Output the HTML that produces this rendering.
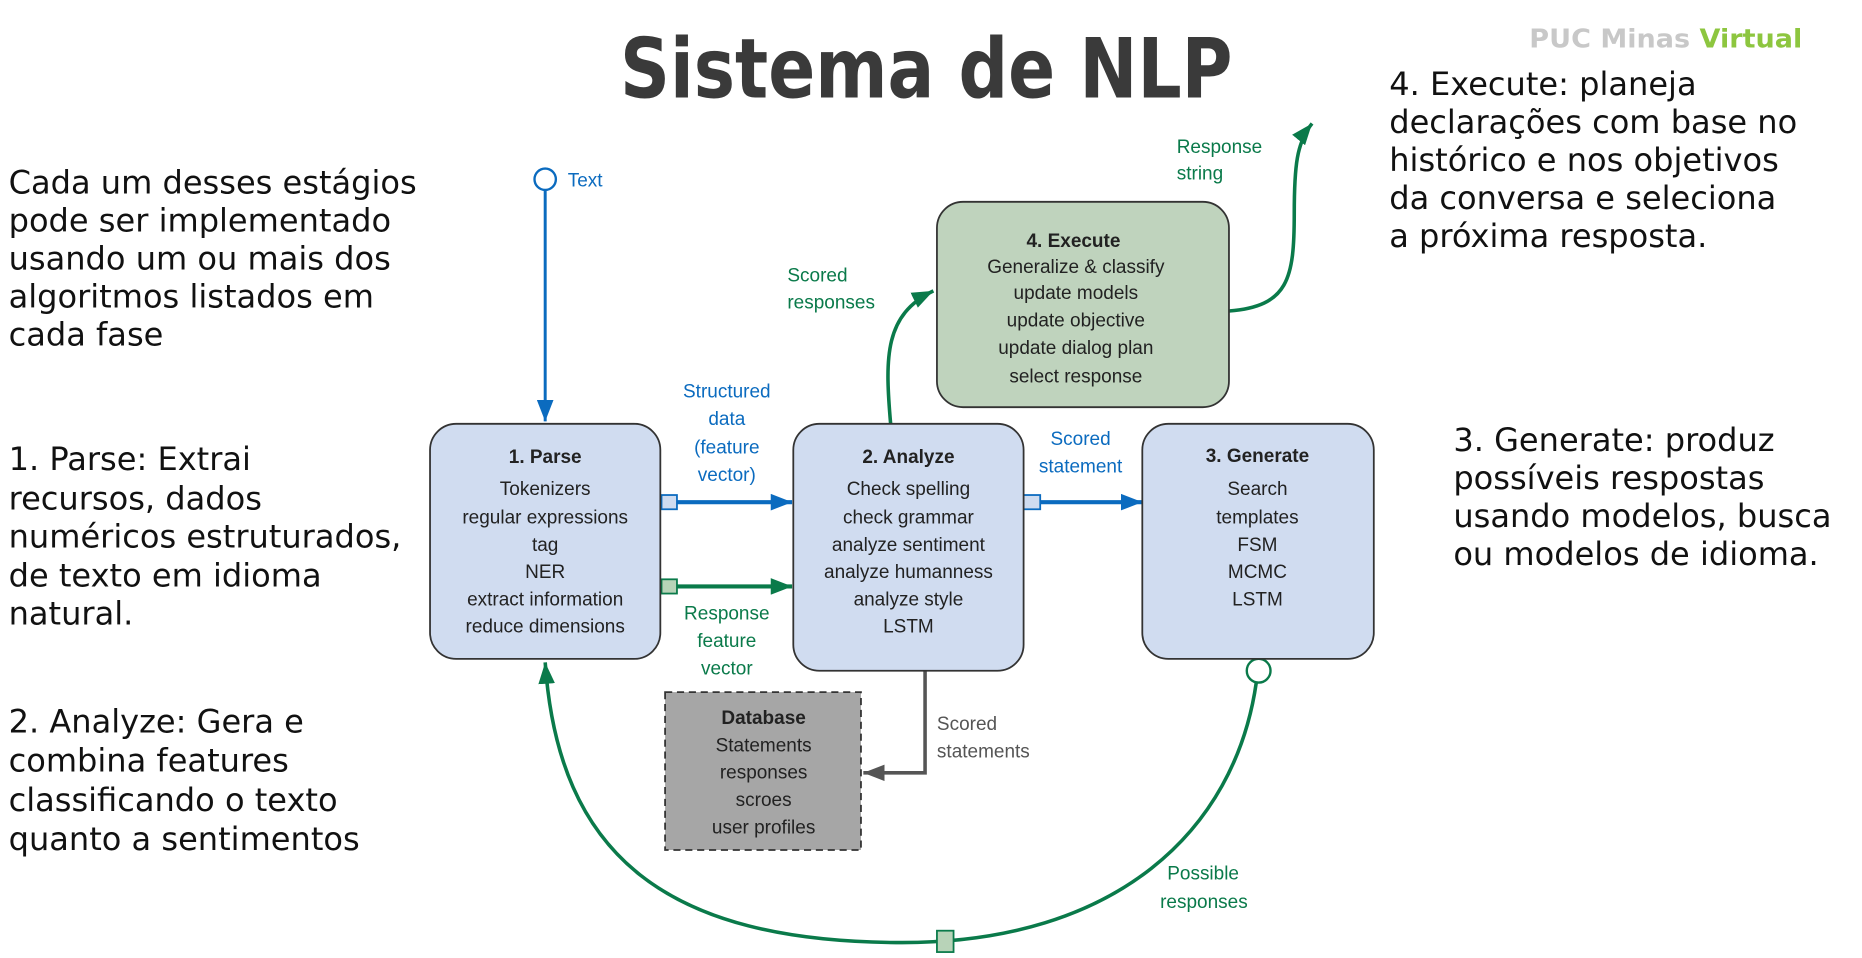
<!DOCTYPE html>
<html><head><meta charset="utf-8">
<style>
html,body{margin:0;padding:0;background:#fff;}
svg{display:block;}
.t{font-family:"DejaVu Sans",sans-serif;font-size:27px;fill:#111;}
.d{font-family:"Liberation Sans",sans-serif;font-size:16px;fill:#222;text-anchor:middle;}
.b{font-weight:bold;}
.bl{font-family:"Liberation Sans",sans-serif;font-size:16px;fill:#0b6bbf;}
.gr{font-family:"Liberation Sans",sans-serif;font-size:16px;fill:#0a7a4a;}
.gy{font-family:"Liberation Sans",sans-serif;font-size:16px;fill:#555;}
</style></head><body>
<svg width="1862" height="958" viewBox="0 0 1568 807" xmlns="http://www.w3.org/2000/svg">
<defs>
<marker id="abb" viewBox="0 0 10 10" markerWidth="18" markerHeight="14" refX="10" refY="5" orient="auto" markerUnits="userSpaceOnUse" preserveAspectRatio="none"><path d="M0,0 L10,5 L0,10 z" fill="#0b6bbf"/></marker>
<marker id="ag" viewBox="0 0 10 10" markerWidth="18" markerHeight="14" refX="10" refY="5" orient="auto" markerUnits="userSpaceOnUse" preserveAspectRatio="none"><path d="M0,0 L10,5 L0,10 z" fill="#0a7a4a"/></marker>
<marker id="agy" viewBox="0 0 10 10" markerWidth="18" markerHeight="14" refX="10" refY="5" orient="auto" markerUnits="userSpaceOnUse" preserveAspectRatio="none"><path d="M0,0 L10,5 L0,10 z" fill="#555"/></marker>
</defs>

<text x="522" y="82" textLength="516" lengthAdjust="spacingAndGlyphs" style="font-family:'DejaVu Sans',sans-serif;font-weight:bold;font-size:70px;fill:#3a3a3a">Sistema de NLP</text>
<text x="1288" y="40" textLength="230" lengthAdjust="spacingAndGlyphs" style="font-family:'DejaVu Sans',sans-serif;font-weight:bold;font-size:22px;fill:#c8c8c8">PUC Minas <tspan fill="#8dc63f">Virtual</tspan></text>

<g class="t">
<text x="7" y="163">Cada um desses estágios</text>
<text x="7" y="195">pode ser implementado</text>
<text x="7" y="227">usando um ou mais dos</text>
<text x="7" y="259">algoritmos listados em</text>
<text x="7" y="291">cada fase</text>
<text x="7" y="396">1. Parse: Extrai</text>
<text x="7" y="429">recursos, dados</text>
<text x="7" y="461">numéricos estruturados,</text>
<text x="7" y="494">de texto em idioma</text>
<text x="7" y="526">natural.</text>
<text x="7" y="617">2. Analyze: Gera e</text>
<text x="7" y="650">combina features</text>
<text x="7" y="683">classificando o texto</text>
<text x="7" y="716">quanto a sentimentos</text>
<text x="1170" y="80">4. Execute: planeja</text>
<text x="1170" y="112">declarações com base no</text>
<text x="1170" y="144">histórico e nos objetivos</text>
<text x="1170" y="176">da conversa e seleciona</text>
<text x="1170" y="208">a próxima resposta.</text>
<text x="1224" y="380">3. Generate: produz</text>
<text x="1224" y="412">possíveis respostas</text>
<text x="1224" y="444">usando modelos, busca</text>
<text x="1224" y="476">ou modelos de idioma.</text>
</g>

<circle cx="459" cy="151" r="9" fill="#fff" stroke="#0b6bbf" stroke-width="2"/>
<line x1="459" y1="160" x2="459" y2="355" stroke="#0b6bbf" stroke-width="2.5" marker-end="url(#abb)"/>
<text x="478" y="157" class="bl">Text</text>

<line x1="570" y1="423" x2="667" y2="423" stroke="#0b6bbf" stroke-width="3.5" marker-end="url(#abb)"/>
<rect x="557" y="417" width="13" height="12" fill="#cfdcf0" stroke="#0b6bbf" stroke-width="1.5"/>
<line x1="570" y1="494" x2="667" y2="494" stroke="#0a7a4a" stroke-width="3.5" marker-end="url(#ag)"/>
<rect x="557" y="488" width="13" height="12" fill="#b8d3b8" stroke="#0a7a4a" stroke-width="1.5"/>
<line x1="876" y1="423" x2="962" y2="423" stroke="#0b6bbf" stroke-width="3.5" marker-end="url(#abb)"/>
<rect x="862" y="417" width="14" height="12" fill="#cfdcf0" stroke="#0b6bbf" stroke-width="1.5"/>

<g class="bl" text-anchor="middle">
<text x="612" y="335">Structured</text><text x="612" y="358">data</text><text x="612" y="382">(feature</text><text x="612" y="405">vector)</text>
<text x="910" y="375">Scored</text><text x="910" y="398">statement</text>
</g>
<g class="gr" text-anchor="middle">
<text x="612" y="522">Response</text><text x="612" y="545">feature</text><text x="612" y="568">vector</text>
</g>
<g class="gr">
<text x="663" y="237">Scored</text><text x="663" y="260">responses</text>
<text x="991" y="129">Response</text><text x="991" y="151">string</text>
<text x="983" y="741">Possible</text><text x="977" y="765">responses</text>
</g>

<path d="M750,357 C745,300 745,265 786,245" fill="none" stroke="#0a7a4a" stroke-width="3" marker-end="url(#ag)"/>
<path d="M1035,262 C1085,258 1090,235 1090,180 C1090,140 1092,120 1105,104" fill="none" stroke="#0a7a4a" stroke-width="3" marker-end="url(#ag)"/>

<path d="M779,565 L779,651 L727,651" fill="none" stroke="#555" stroke-width="3" marker-end="url(#agy)"/>
<g class="gy"><text x="789" y="615">Scored</text><text x="789" y="638">statements</text></g>

<path d="M1058,575 C1040,700 940,794 760,794 C560,794 470,720 459,558" fill="none" stroke="#0a7a4a" stroke-width="3" marker-end="url(#ag)"/>
<circle cx="1060" cy="565" r="10" fill="#fff" stroke="#0a7a4a" stroke-width="2"/>
<rect x="789" y="784" width="14" height="18" fill="#b8d3b8" stroke="#0a7a4a" stroke-width="1.5"/>

<rect x="362" y="357" width="194" height="198" rx="22" fill="#d0dcf0" stroke="#333" stroke-width="1.5"/>
<rect x="668" y="357" width="194" height="208" rx="22" fill="#d0dcf0" stroke="#333" stroke-width="1.5"/>
<rect x="962" y="357" width="195" height="198" rx="22" fill="#d0dcf0" stroke="#333" stroke-width="1.5"/>
<rect x="789" y="170" width="246" height="173" rx="22" fill="#bfd3bd" stroke="#333" stroke-width="1.5"/>
<rect x="560" y="583" width="165" height="133" fill="#a6a6a6" stroke="#333" stroke-width="1.5" stroke-dasharray="6,4"/>

<g class="d">
<text x="459" y="390" class="b">1. Parse</text>
<text x="459" y="417">Tokenizers</text><text x="459" y="441">regular expressions</text><text x="459" y="464">tag</text><text x="459" y="487">NER</text><text x="459" y="510">extract information</text><text x="459" y="533">reduce dimensions</text>
<text x="765" y="390" class="b">2. Analyze</text>
<text x="765" y="417">Check spelling</text><text x="765" y="441">check grammar</text><text x="765" y="464">analyze sentiment</text><text x="765" y="487">analyze humanness</text><text x="765" y="510">analyze style</text><text x="765" y="533">LSTM</text>
<text x="1059" y="389" class="b">3. Generate</text>
<text x="1059" y="417">Search</text><text x="1059" y="441">templates</text><text x="1059" y="464">FSM</text><text x="1059" y="487">MCMC</text><text x="1059" y="510">LSTM</text>
<text x="904" y="208" class="b">4. Execute</text>
<text x="906" y="230">Generalize &amp; classify</text><text x="906" y="252">update models</text><text x="906" y="275">update objective</text><text x="906" y="298">update dialog plan</text><text x="906" y="322">select response</text>
<text x="643" y="610" class="b">Database</text>
<text x="643" y="633">Statements</text><text x="643" y="656">responses</text><text x="643" y="679">scroes</text><text x="643" y="702">user profiles</text>
</g>
</svg>
</body></html>
